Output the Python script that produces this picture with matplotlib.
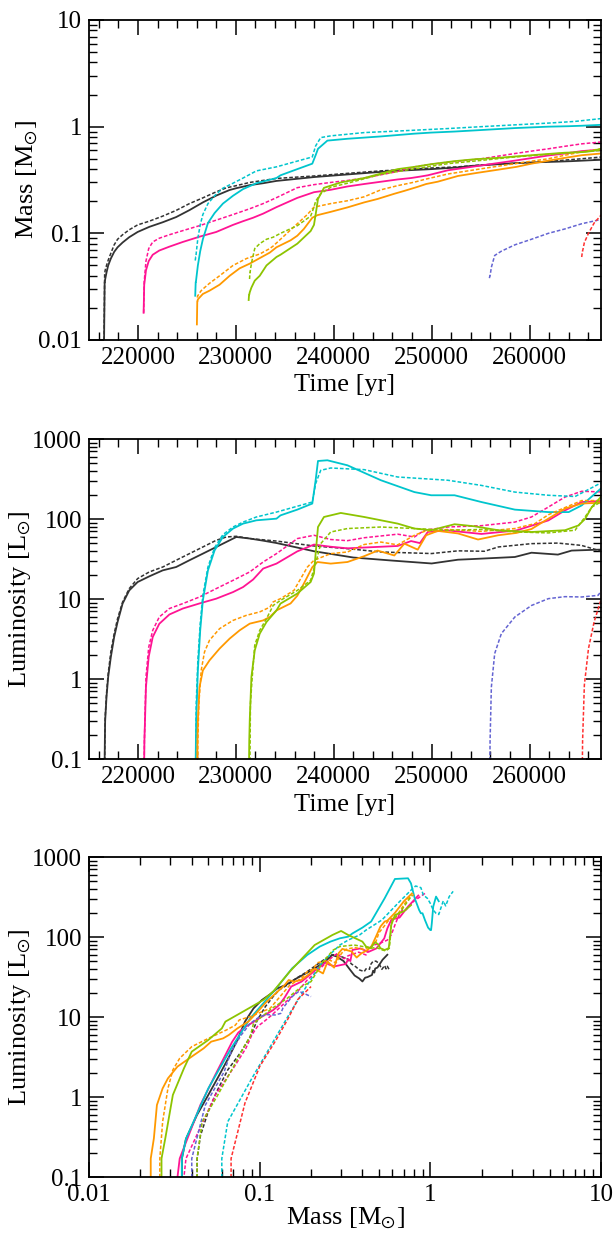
import matplotlib
matplotlib.use('Agg')
import matplotlib.pyplot as plt
from matplotlib import ticker

plt.rcParams['font.family'] = ['Liberation Serif', 'DejaVu Serif']
plt.rcParams['mathtext.fontset'] = 'stix'

# ---------------- data (time [yr], mass [Msun], luminosity [Lsun]) ----------------
t_blk_s = [216540, 216600, 216620, 216650, 216790, 216960, 217230, 217570, 217920, 218430, 219110, 219970, 221160, 222530, 223900, 225260, 226630, 228000, 229370, 230050, 231420, 232790, 234150, 238000, 242000, 246000, 250000, 252700, 254000, 258500, 260200, 262900, 264300, 267400, 269000, 270500]
m_blk_s = [0.010, 0.035, 0.035, 0.037, 0.043, 0.050, 0.058, 0.067, 0.074, 0.082, 0.092, 0.103, 0.115, 0.127, 0.142, 0.165, 0.195, 0.226, 0.255, 0.265, 0.283, 0.295, 0.31, 0.337, 0.36, 0.384, 0.40, 0.415, 0.428, 0.455, 0.462, 0.47, 0.475, 0.49, 0.525, 0.56]
l_blk_s = [0.001, 0.1, 0.17, 0.3, 0.6, 1.06, 1.88, 3.35, 5.16, 8.76, 12.8, 16.3, 19.2, 22.8, 25.1, 30.5, 36.9, 44.7, 54.2, 59.6, 57, 53.6, 50.1, 39.5, 33, 30.2, 27.8, 31, 31.5, 33.5, 37.9, 35.9, 40.3, 41.5, 52, 60]

t_blk_d = [216540, 216600, 216620, 216650, 216790, 216960, 217230, 217570, 217920, 218430, 219110, 219970, 221160, 222530, 223900, 225260, 226630, 228000, 229030, 230050, 231420, 234150, 238000, 241400, 244800, 250000, 252700, 255400, 256800, 260200, 262900, 265300, 267400, 268500, 269200, 269800, 270500]
m_blk_d = [0.010, 0.043, 0.043, 0.045, 0.050, 0.056, 0.065, 0.078, 0.088, 0.097, 0.108, 0.12, 0.13, 0.145, 0.164, 0.19, 0.215, 0.245, 0.267, 0.28, 0.30, 0.327, 0.345, 0.365, 0.385, 0.41, 0.42, 0.44, 0.445, 0.46, 0.48, 0.50, 0.52, 0.54, 0.55, 0.56, 0.572]
l_blk_d = [0.001, 0.1, 0.17, 0.33, 0.66, 1.17, 2.18, 3.69, 5.69, 9.17, 13.5, 18, 21.8, 25.1, 30.5, 36.9, 44.7, 54.2, 59.6, 60.8, 57, 53, 46, 42.6, 38.7, 37, 40, 39.5, 44.7, 49.2, 50, 46.8, 39.4, 44, 40, 43, 39.6]

t_mag_s = [220580, 220640, 220660, 220820, 221100, 221510, 222180, 223210, 224580, 226290, 228000, 229710, 230740, 231760, 232790, 234150, 236280, 237980, 239690, 241400, 243110, 246530, 247900, 248800, 249610, 251660, 255080, 258670, 261920, 263620, 265330, 267280, 268500, 269500, 270500]
m_mag_s = [0.018, 0.033, 0.034, 0.045, 0.055, 0.063, 0.069, 0.075, 0.083, 0.093, 0.103, 0.12, 0.13, 0.14, 0.153, 0.176, 0.215, 0.243, 0.256, 0.275, 0.29, 0.32, 0.33, 0.34, 0.35, 0.39, 0.433, 0.483, 0.537, 0.56, 0.59, 0.61, 0.66, 0.74, 0.85]
l_mag_s = [0.001, 0.1, 0.17, 0.8, 1.9, 3.35, 4.9, 6.4, 7.6, 8.8, 10.1, 12.2, 14.1, 17.5, 24, 27.7, 39.4, 47.9, 45, 43, 44, 46, 53, 50, 69, 72, 65, 72, 96, 128, 163, 168, 175, 240, 330]

t_mag_d = [220580, 220640, 220660, 220820, 221100, 221510, 222180, 223210, 224580, 226290, 228000, 229710, 231420, 232790, 234150, 236280, 237980, 239690, 241400, 243110, 246530, 248240, 249270, 251660, 255080, 258500, 260200, 261920, 263620, 265330, 267400, 269000, 271000]
m_mag_d = [0.018, 0.036, 0.037, 0.055, 0.072, 0.083, 0.09, 0.097, 0.106, 0.118, 0.133, 0.15, 0.17, 0.19, 0.216, 0.268, 0.286, 0.30, 0.313, 0.33, 0.38, 0.42, 0.435, 0.465, 0.50, 0.56, 0.59, 0.62, 0.655, 0.69, 0.72, 0.80, 0.95]
l_mag_d = [0.001, 0.1, 0.17, 1.06, 2.5, 4.06, 5.96, 7.6, 8.76, 10.6, 13.5, 17.1, 21.8, 29, 36.9, 56.9, 62.6, 55.4, 53.6, 58.3, 64.6, 59.6, 72.4, 79.4, 82.5, 91.5, 106, 141, 188, 222, 218, 280, 362]

t_cyn_s = [225850, 225900, 225920, 225950, 226120, 226360, 226630, 227150, 227830, 228680, 229710, 230740, 232100, 234150, 234560, 236280, 237810, 238150, 238390, 239350, 241400, 244820, 248240, 249950, 252340, 255080, 258500, 261920, 264000, 265330, 267280, 268500, 269000]
m_cyn_s = [0.026, 0.035, 0.035, 0.037, 0.05, 0.068, 0.088, 0.125, 0.155, 0.19, 0.225, 0.26, 0.295, 0.33, 0.35, 0.40, 0.45, 0.54, 0.62, 0.74, 0.77, 0.81, 0.86, 0.88, 0.90, 0.93, 0.97, 1.0, 1.01, 1.02, 1.04, 1.08, 1.12]
l_cyn_s = [0.001, 0.1, 0.17, 0.3, 1.28, 4.06, 9.6, 22.8, 40.6, 59.6, 75.9, 87.6, 96.3, 101, 111, 131, 156, 305, 531, 542, 469, 305, 217, 198, 198, 163, 131, 122, 122, 148, 240, 320, 280]

t_cyn_d = [225850, 225900, 225920, 225950, 226120, 226360, 226630, 227150, 227830, 228680, 229710, 230740, 232100, 234150, 237810, 238150, 238670, 239690, 243110, 246530, 251660, 255080, 258500, 261920, 264650, 267280, 268000, 268800, 269500]
m_cyn_d = [0.0556, 0.060, 0.060, 0.065, 0.09, 0.12, 0.15, 0.19, 0.225, 0.265, 0.295, 0.33, 0.385, 0.42, 0.52, 0.66, 0.79, 0.82, 0.88, 0.91, 0.96, 1.0, 1.04, 1.08, 1.12, 1.19, 1.23, 1.29, 1.36]
l_cyn_d = [0.001, 0.1, 0.17, 0.49, 1.71, 4.92, 11.1, 25.1, 43.9, 63.8, 79.4, 91.5, 106, 122, 163, 277, 406, 434, 414, 335, 305, 263, 217, 198, 191, 282, 245, 320, 372]

t_org_s = [226020, 226060, 226080, 226120, 226290, 226630, 227310, 228340, 229370, 230390, 231420, 232790, 233470, 234150, 235590, 236280, 236950, 237810, 238330, 239690, 241400, 243110, 244480, 246190, 247210, 248580, 249440, 250630, 252690, 254740, 256790, 258670, 260200, 261920, 263620, 265330, 267280, 268500, 269500, 270500]
m_org_s = [0.014, 0.023, 0.023, 0.024, 0.025, 0.027, 0.029, 0.033, 0.040, 0.047, 0.052, 0.061, 0.066, 0.074, 0.086, 0.095, 0.11, 0.14, 0.148, 0.159, 0.175, 0.195, 0.21, 0.235, 0.25, 0.273, 0.29, 0.305, 0.345, 0.37, 0.395, 0.42, 0.45, 0.48, 0.51, 0.54, 0.56, 0.62, 0.70, 0.78]
l_org_s = [0.001, 0.1, 0.17, 0.305, 0.794, 1.28, 1.71, 2.4, 3.2, 4.06, 4.92, 5.4, 5.96, 7.2, 8.8, 11, 15.6, 25, 29, 27.7, 29, 34.3, 40.3, 35, 49.2, 41.4, 62.6, 71, 66, 55.4, 62.6, 67, 75, 101, 135, 156, 160, 200, 280, 350]

t_org_d = [226060, 226100, 226120, 226220, 226460, 226800, 227310, 228340, 229710, 231080, 232440, 233470, 233810, 234560, 235930, 237300, 237980, 239690, 241400, 243110, 244820, 246530, 248240, 249270, 251660, 255080, 258500, 260550, 261920, 263620, 265330, 267280, 268500, 269500, 270500]
m_org_d = [0.025, 0.026, 0.026, 0.027, 0.029, 0.031, 0.034, 0.040, 0.050, 0.058, 0.064, 0.072, 0.076, 0.088, 0.115, 0.15, 0.176, 0.19, 0.202, 0.22, 0.256, 0.28, 0.302, 0.32, 0.36, 0.403, 0.45, 0.48, 0.50, 0.54, 0.58, 0.62, 0.68, 0.74, 0.80]
l_org_d = [0.001, 0.1, 0.17, 0.49, 1.28, 2.18, 3.05, 4.26, 5.4, 6.25, 6.9, 7.9, 9.2, 10.1, 12.8, 25, 30.5, 36.9, 38.7, 48, 51.5, 47.5, 62.6, 70, 74, 70, 76, 87.6, 113, 139, 170, 170, 230, 300, 340]

t_grn_s = [231310, 231350, 231370, 231420, 231590, 231930, 232440, 233130, 234150, 234560, 236280, 237640, 237980, 238150, 238390, 239000, 240720, 243110, 246530, 248240, 249950, 252340, 254390, 256790, 260200, 263620, 264990, 265670, 266360, 267280, 268500, 269500]
m_grn_s = [0.0237, 0.0266, 0.0266, 0.028, 0.031, 0.036, 0.040, 0.050, 0.060, 0.063, 0.08, 0.105, 0.12, 0.15, 0.21, 0.267, 0.30, 0.33, 0.40, 0.42, 0.445, 0.475, 0.495, 0.51, 0.54, 0.57, 0.575, 0.58, 0.59, 0.62, 0.70, 0.77]
l_grn_s = [0.001, 0.1, 0.17, 0.305, 1.06, 2.28, 3.69, 5.16, 7.2, 8.76, 11.7, 16.3, 20.8, 36.9, 79.4, 106, 119, 106, 87.6, 76, 72.4, 86, 81, 72.4, 68.8, 72.4, 83, 100, 141, 188, 210, 250]

t_grn_d = [231400, 231440, 231460, 231490, 231660, 231930, 232440, 233130, 233810, 234560, 236280, 237640, 237980, 238150, 238670, 239690, 241400, 244820, 248240, 251660, 255080, 258500, 261920, 264650, 265670, 266360, 267280, 268500, 269500, 270500]
m_grn_d = [0.0373, 0.043, 0.043, 0.046, 0.056, 0.072, 0.08, 0.088, 0.092, 0.10, 0.118, 0.145, 0.176, 0.20, 0.235, 0.27, 0.295, 0.357, 0.403, 0.45, 0.483, 0.52, 0.55, 0.575, 0.585, 0.59, 0.60, 0.66, 0.72, 0.78]
l_grn_d = [0.001, 0.1, 0.17, 0.49, 1.0, 2.64, 4.06, 5.67, 8.3, 9.6, 12.8, 17.1, 24, 27.7, 49.2, 68.8, 76, 79.4, 76, 72.4, 74, 69, 67, 72.4, 106, 141, 163, 200, 260, 330]

t_blu_d = [255900, 255950, 255970, 256100, 256440, 257120, 258500, 260200, 261920, 263620, 265330, 267000, 267400, 268500, 269500, 270500]
m_blu_d = [0.038, 0.040, 0.040, 0.048, 0.062, 0.068, 0.078, 0.088, 0.10, 0.11, 0.123, 0.133, 0.137, 0.155, 0.17, 0.20]
l_blu_d = [0.001, 0.1, 0.17, 0.79, 2.08, 3.69, 5.96, 8.3, 10.1, 10.7, 10.6, 11.1, 13, 18, 21, 18]

t_red_d = [265330, 265400, 265420, 265600, 266020, 266600, 267280, 267900, 268500]
m_red_d = [0.060, 0.068, 0.068, 0.082, 0.10, 0.125, 0.147, 0.167, 0.20]
l_red_d = [0.001, 0.1, 0.17, 0.84, 2.4, 5.2, 9.6, 16.5, 24]

# ---------------- styles ----------------
C_BLK = '#333333'
C_MAG = '#ff1493'
C_CYN = '#00c5cd'
C_ORG = '#ff9900'
C_GRN = '#8dc400'
C_BLU = '#6464d2'
C_RED = '#ff3030'
DASH = (0, (2.4, 1.3))

series = [
    (t_blk_s, m_blk_s, l_blk_s, C_BLK, '-'),
    (t_blk_d, m_blk_d, l_blk_d, C_BLK, DASH),
    (t_mag_s, m_mag_s, l_mag_s, C_MAG, '-'),
    (t_mag_d, m_mag_d, l_mag_d, C_MAG, DASH),
    (t_cyn_s, m_cyn_s, l_cyn_s, C_CYN, '-'),
    (t_cyn_d, m_cyn_d, l_cyn_d, C_CYN, DASH),
    (t_org_s, m_org_s, l_org_s, C_ORG, '-'),
    (t_org_d, m_org_d, l_org_d, C_ORG, DASH),
    (t_grn_s, m_grn_s, l_grn_s, C_GRN, '-'),
    (t_grn_d, m_grn_d, l_grn_d, C_GRN, DASH),
    (t_blu_d, m_blu_d, l_blu_d, C_BLU, DASH),
    (t_red_d, m_red_d, l_red_d, C_RED, DASH),
]

fig = plt.figure(figsize=(6.16, 12.33), dpi=100)
W, H = 616.0, 1233.0
left, right = 89.0, 601.0


def make_ax(top, bottom):
    return fig.add_axes([left / W, 1 - bottom / H, (right - left) / W, (bottom - top) / H])


ax1 = make_ax(20, 340)
ax2 = make_ax(439, 759)
ax3 = make_ax(857, 1177)

fmt = ticker.FuncFormatter(lambda v, p: ('%g' % v))

for t, m, l, c, ls in series:
    lw = 1.3 if ls == '-' else 1.1
    ax1.plot(t, m, color=c, ls=ls, lw=lw)
    ax2.plot(t, l, color=c, ls=ls, lw=lw)
    ax3.plot(m, l, color=c, ls=ls, lw=lw)

for ax in (ax1, ax2):
    ax.set_xlim(215000, 267300)
    ax.set_yscale('log')
    ax.xaxis.set_major_locator(ticker.MultipleLocator(10000))
    ax.xaxis.set_minor_locator(ticker.MultipleLocator(2000))
    ax.xaxis.set_major_formatter(ticker.FuncFormatter(lambda v, p: '%d' % v))
    ax.set_xlabel('Time [yr]', fontsize=19, labelpad=4)

ax1.set_ylim(0.01, 10)
ax1.set_ylabel('Mass [M$_{\\odot}$]', fontsize=19, labelpad=-1)
ax2.set_ylim(0.1, 1000)
ax2.set_ylabel('Luminosity [L$_{\\odot}$]', fontsize=19, labelpad=-1)

ax3.set_xscale('log')
ax3.set_yscale('log')
ax3.set_xlim(0.01, 10)
ax3.set_ylim(0.1, 1000)
ax3.xaxis.set_major_formatter(fmt)
ax3.set_xlabel('Mass [M$_{\\odot}$]', fontsize=19)
ax3.xaxis.set_label_coords(0.5, -0.088)
ax3.set_ylabel('Luminosity [L$_{\\odot}$]', fontsize=19, labelpad=-1)

for ax in (ax1, ax2, ax3):
    ax.yaxis.set_major_formatter(fmt)
    ax.yaxis.set_minor_formatter(ticker.NullFormatter())
    if ax is ax3:
        ax.xaxis.set_minor_formatter(ticker.NullFormatter())
    ax.tick_params(which='both', direction='in', top=True, right=True, labelsize=18)
    ax.tick_params(which='major', length=11, width=1.1, pad=5)
    ax.tick_params(which='minor', length=5.5, width=1.0)
    for sp in ax.spines.values():
        sp.set_linewidth(1.3)

fig.savefig('out.png', dpi=100)
